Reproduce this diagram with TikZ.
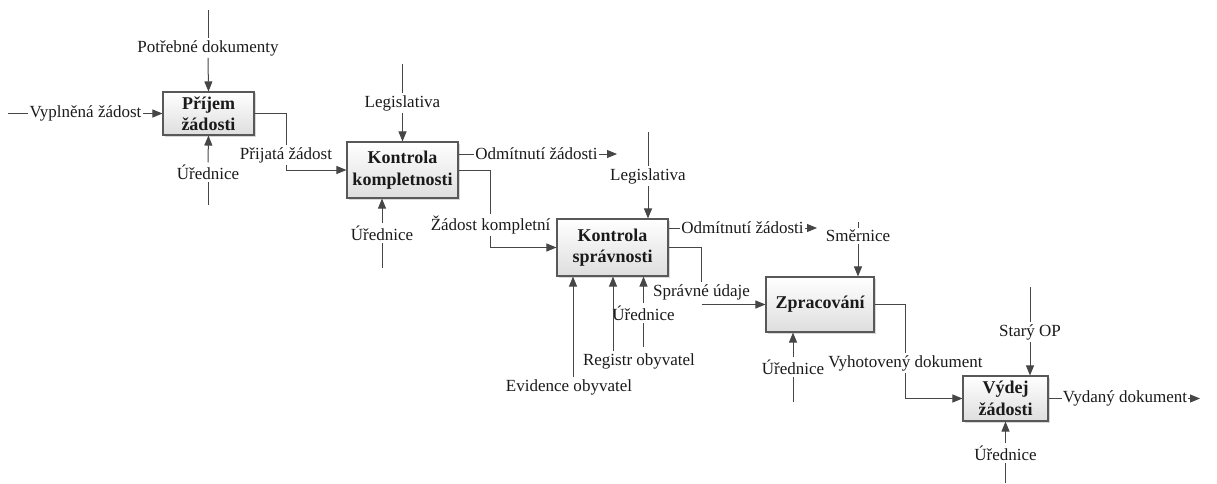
\documentclass[tikz,border=0pt]{standalone}
\usepackage{fontspec}
\setmainfont{LiberationSerif}[Extension=.ttf, UprightFont=*-Regular, BoldFont=*-Bold, ItalicFont=*-Italic, BoldItalicFont=*-BoldItalic]
\usetikzlibrary{arrows.meta,shadows}
\definecolor{ln}{HTML}{464646}
\definecolor{tx}{HTML}{1A1A1A}
\definecolor{bd}{HTML}{585858}
\begin{document}
\begin{tikzpicture}[x=1pt,y=-1pt,
  proc/.style={draw=bd, line width=1.1pt, top color=white, bottom color=black!13,
    drop shadow={shadow xshift=1.5pt,shadow yshift=-1.5pt,fill=black!30,opacity=0.5},
    align=center, font=\fontsize{18}{21.5}\selectfont\bfseries, text=tx, inner sep=0pt},
  lbl/.style={font=\fontsize{17}{20}\selectfont, text=tx, inner xsep=1pt, inner ysep=2pt},
  wire/.style={draw=ln, line width=1pt},
  arr/.style={wire, -{Triangle[length=10pt,width=8pt]}},
]
\useasboundingbox (0,0) rectangle (1217,484);

% activity boxes
\node[proc, minimum width=91pt, minimum height=43pt] (b1) at (208.5,113.5) {Příjem\\žádosti};
\node[proc, minimum width=111pt, minimum height=56pt] (b2) at (402.5,170) {Kontrola\\kompletnosti};
\node[proc, minimum width=111pt, minimum height=57pt] (b3) at (612.5,247.5) {Kontrola\\správnosti};
\node[proc, minimum width=108pt, minimum height=55pt] (b4) at (820,304.5) {Zpracování};
\node[proc, minimum width=85pt, minimum height=45pt] (b5) at (1005.5,398.5) {Výdej\\žádosti};

% controls (from above)
\coordinate (t1) at (208,10);
\node[lbl] (lt1) at (208,48) {Potřebné dokumenty};
\draw[wire] (t1) -- (lt1.north);
\draw[arr] (lt1.south) -- (b1.north);

\coordinate (t2) at (402.5,64);
\node[lbl] (lt2) at (402.5,103) {Legislativa};
\draw[wire] (t2) -- (lt2.north);
\draw[arr] (lt2.south) -- (b2.north);

\coordinate (t3) at (648,132);
\node[lbl] (lt3) at (648,176) {Legislativa};
\draw[wire] (t3) -- (lt3.north);
\draw[arr] (lt3.south) -- (lt3.south |- b3.north);

\coordinate (t4) at (858,222);
\node[lbl] (lt4) at (858,236) {Směrnice};
\draw[wire] (t4) -- (lt4.north);
\draw[arr] (lt4.south) -- (lt4.south |- b4.north);

\coordinate (t5) at (1030,287);
\node[lbl] (lt5) at (1030,332) {Starý OP};
\draw[wire] (t5) -- (lt5.north);
\draw[arr] (lt5.south) -- (lt5.south |- b5.north);

% input
\coordinate (i1) at (8,113.5);
\node[lbl] (li1) at (85.5,113.5) {Vyplněná žádost};
\draw[wire] (i1) -- (li1.west);
\draw[arr] (li1.east) -- (b1.west);

% outputs between activities
\node[lbl] (o1) at (286,155) {Přijatá žádost};
\draw[wire] (b1.east) -| (o1.north);
\draw[arr] (o1.south) |- (b2.west);

\node[lbl] (o2) at (490.5,225) {Žádost kompletní};
\draw[wire] (b2.east) -| (o2.north);
\draw[arr] (o2.south) |- (b3.west);

\node[lbl] (o3) at (701.5,292) {Správné údaje};
\draw[wire] (b3.east) -| (o3.north);
\draw[arr] (o3.south |- b4.west) -- (b4.west);

\node[lbl] (o4) at (905.5,363) {Vyhotovený dokument};
\draw[wire] (b4.east) -| (o4.north);
\draw[arr] (o4.south) |- (b5.west);

\node[lbl] (o5) at (1125,398.5) {Vydaný dokument};
\coordinate (o5e) at (1200,398.5);
\draw[wire] (b5.east) -- (o5.west);
\draw[arr] (o5.east) -- (o5e);

% rejections
\node[lbl] (r2) at (536.5,154) {Odmítnutí žádosti};
\coordinate (r2e) at (617,154);
\draw[wire] (r2.west -| b2.east) -- (r2.west);
\draw[arr] (r2.east) -- (r2e);

\node[lbl] (r3) at (742.5,228) {Odmítnutí žádosti};
\coordinate (r3e) at (817,228);
\draw[wire] (r3.west -| b3.east) -- (r3.west);
\draw[arr] (r3.east) -- (r3e);

% mechanisms (from below)
\coordinate (m1) at (208,205);
\node[lbl] (lm1) at (208,172) {Úřednice};
\draw[wire] (m1) -- (lm1.south);
\draw[arr] (lm1.north) -- (b1.south);

\coordinate (m2) at (382,268);
\node[lbl] (lm2) at (382,233) {Úřednice};
\draw[wire] (m2) -- (lm2.south);
\draw[arr] (lm2.north) -- (lm2.north |- b2.south);

\coordinate (m3) at (643.5,347);
\node[lbl] (lm3) at (643.5,313) {Úřednice};
\draw[wire] (m3) -- (lm3.south);
\draw[arr] (lm3.north) -- (lm3.north |- b3.south);

\path (b3.south) ++(-39.5,0) coordinate (cev);
\node[lbl] (lev) at (569,387) {Evidence obyvatel};
\draw[arr] (lev.north -| cev) -- (cev);

\path (b3.south) ++(0.5,0) coordinate (crg);
\node[lbl] (lrg) at (639,361) {Registr obyvatel};
\draw[arr] (lrg.north -| crg) -- (crg);

\coordinate (m4) at (793,402);
\node[lbl] (lm4) at (793,367) {Úřednice};
\draw[wire] (m4) -- (lm4.south);
\draw[arr] (lm4.north) -- (lm4.north |- b4.south);

\coordinate (m5) at (1005.5,483);
\node[lbl] (lm5) at (1005.5,453) {Úřednice};
\draw[wire] (m5) -- (lm5.south);
\draw[arr] (lm5.north) -- (lm5.north |- b5.south);
\end{tikzpicture}
\end{document}
